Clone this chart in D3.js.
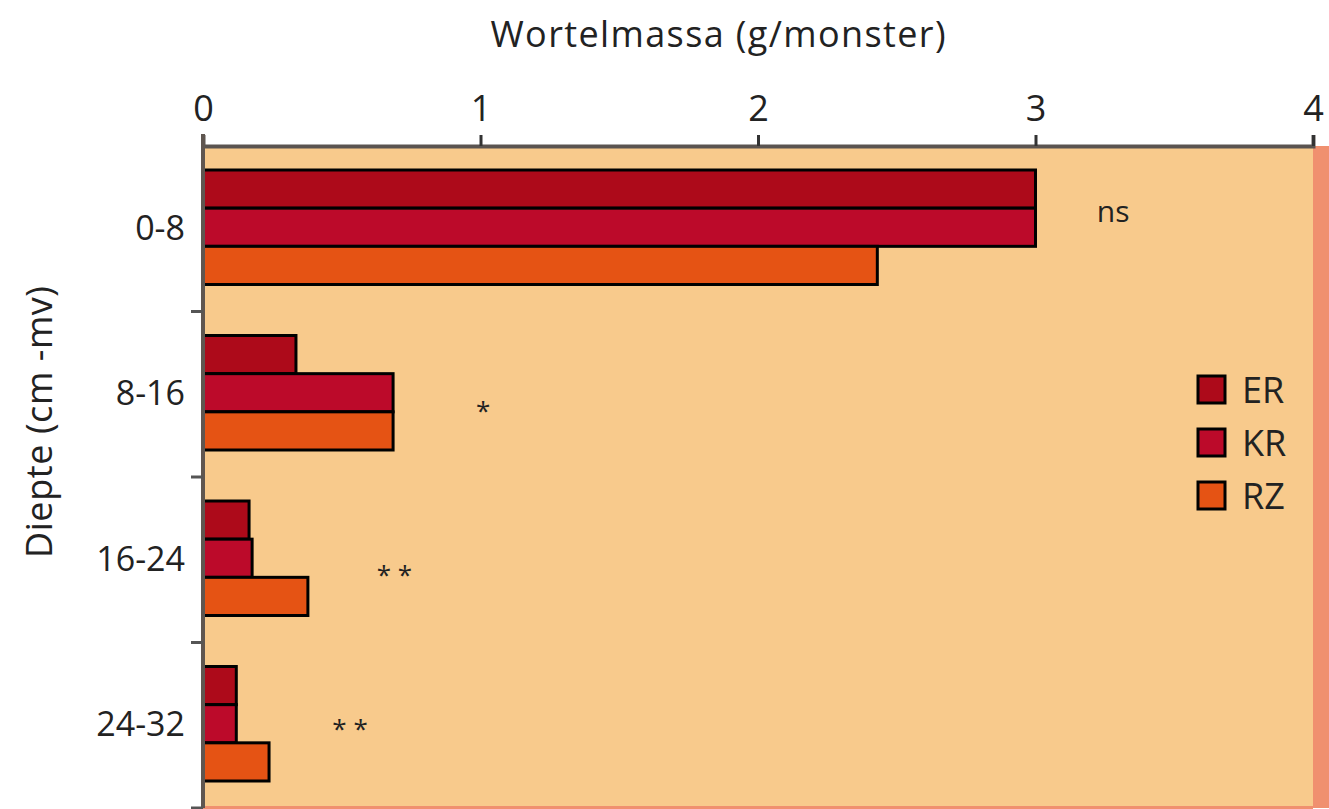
<!DOCTYPE html>
<html><head><meta charset="utf-8">
<script src="https://cdn.jsdelivr.net/npm/d3@7"></script>
<style>body{margin:0;background:#fff}svg{display:block}text{font-family:"Open Sans","Noto Sans",sans-serif;fill:#222}</style>
</head><body><svg id="c" width="1329" height="809"></svg>
<script>
const categories = ["0-8","8-16","16-24","24-32"];
const seriesNames = ["ER","KR","RZ"];
const ER = [3.0, 0.335, 0.166, 0.12];
const KR = [3.0, 0.685, 0.177, 0.12];
const RZ = [2.43, 0.685, 0.378, 0.238];
const annotations = ["ns","*","* *","* *"];
const annotX = [3.28, 1.01, 0.69, 0.53];
const xTicks = [0,1,2,3,4];
const colors = {ER:"#ad0a1a", KR:"#bc0a2a", RZ:"#e55314"};

const svg = d3.select("#c");
const L=203, R=1313, T=146, B=808;
const x = d3.scaleLinear().domain([0,4]).range([L,R]);
const y = d3.scaleBand().domain(categories).range([T,B]);
const inner = d3.scaleBand().domain(seriesNames).range([24, y.bandwidth()-27]);
const annotDy = [-16, 18, 17, 5];

svg.append("rect").attr("x",R).attr("y",T).attr("width",1329-R).attr("height",B-T).attr("fill","#f0906f");
svg.append("rect").attr("x",L).attr("y",B-2).attr("width",R-L).attr("height",3).attr("fill","#f0906f");
svg.append("rect").attr("x",L).attr("y",T).attr("width",R-L).attr("height",B-T-2).attr("fill","#f8ca8c");

const data = {ER,KR,RZ};
categories.forEach((c,i)=>{
  seriesNames.forEach(s=>{
    svg.append("rect")
      .attr("x",x(0)).attr("y",y(c)+inner(s))
      .attr("width",x(data[s][i])-x(0)).attr("height",inner.bandwidth())
      .attr("fill",colors[s]).attr("stroke","#000").attr("stroke-width",3);
  });
  svg.append("text").attr("x",x(annotX[i])).attr("y",y(c)+inner("KR")+inner.bandwidth()/2+annotDy[i])
    .attr("dy","0.35em").attr("text-anchor","middle").attr("font-size",i===0?30:26).text(annotations[i]);
});

const xa = svg.append("g").attr("transform",`translate(0,${T})`)
  .call(d3.axisTop(x).tickValues(xTicks).tickFormat(d3.format("d")).tickSize(11).tickPadding(14));
xa.select(".domain").attr("stroke","#5a5450").attr("stroke-width",4);
xa.selectAll(".tick line").attr("stroke","#333").attr("stroke-width",3);
xa.selectAll(".tick text").attr("font-size",36).attr("fill","#222").attr("font-family","Open Sans");

const ya = svg.append("g").attr("transform",`translate(${L},0)`)
  .call(d3.axisLeft(y).tickSize(0).tickPadding(18));
ya.select(".domain").remove();
ya.selectAll(".tick text").attr("font-size",34).attr("fill","#222").attr("font-family","Open Sans");
svg.append("line").attr("x1",L).attr("x2",L).attr("y1",T-12).attr("y2",B).attr("stroke","#5f5650").attr("stroke-width",4);
const bounds = categories.map(c=>y(c)+y.bandwidth());
svg.selectAll(".yt").data(bounds).enter().append("line")
  .attr("x1",L-12).attr("x2",L).attr("y1",d=>d).attr("y2",d=>d).attr("stroke","#555").attr("stroke-width",3);

svg.append("text").attr("x",718).attr("y",47).attr("text-anchor","middle").attr("font-size",36).attr("textLength",455).text("Wortelmassa (g/monster)");
svg.append("text").attr("transform","translate(52,422) rotate(-90)").attr("text-anchor","middle").attr("font-size",36).attr("textLength",272).text("Diepte (cm -mv)");

const lg = svg.append("g").attr("transform","translate(1198,376)");
seriesNames.forEach((s,i)=>{
  const yy=i*53;
  lg.append("rect").attr("x",0).attr("y",yy).attr("width",27).attr("height",27).attr("fill",colors[s]).attr("stroke","#000").attr("stroke-width",3);
  lg.append("text").attr("x",44).attr("y",yy+14).attr("dy","0.36em").attr("font-size",36).text(s);
});
</script></body></html>
